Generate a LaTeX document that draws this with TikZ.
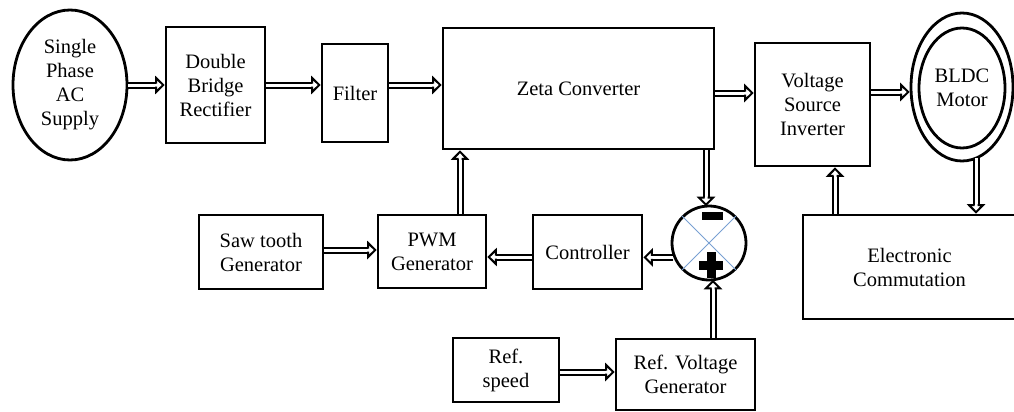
\documentclass[tikz,border=0pt]{standalone}
\usepackage{fontspec}
\setmainfont{Liberation Serif}
\usetikzlibrary{arrows.meta,shapes.geometric,calc,decorations.markings}
\definecolor{crossblue}{RGB}{120,160,210}
\begin{document}
\begin{tikzpicture}[x=1pt,y=-1pt,
  box/.style={draw,line width=2.8pt,inner sep=0pt,align=center,
    font=\fontsize{20.5}{24}\selectfont},
  arrtip/.pic={
    \fill[white] (-8.5pt,7pt) -- (-1.4pt,0pt) -- (-8.5pt,-7pt) -- cycle;
    \draw[black,line width=2pt,line join=miter]
      (-8.5pt,1.5pt) -- (-8.5pt,7pt) -- (-1.4pt,0pt) -- (-8.5pt,-7pt) -- (-8.5pt,-1.5pt);
  },
  arr/.style={draw=none,
    preaction={draw=black,double=white,line width=2pt,double distance=3pt,shorten >=7.5pt},
    postaction={decorate,decoration={markings,mark=at position 1 with {\pic[transform shape]{arrtip};}}}},
  every node/.style={font=\fontsize{20.5}{24}\selectfont}]
\useasboundingbox (0,0) rectangle (1014,412);
% nodes
\node[box,ellipse,minimum width=114,minimum height=150] (supply) at (70,85) {Single\\Phase\\AC\\Supply};
\node[box,minimum width=99,minimum height=116] (dbr) at (215.5,85) {Double\\Bridge\\Rectifier};
\node[box,minimum width=66,minimum height=98] (filter) at (355,93) {Filter};
\node[box,minimum width=271,minimum height=121] (zeta) at (578.5,88.5) {Zeta Converter};
\node[box,minimum width=115,minimum height=123] (vsi) at (812.5,104.5) {Voltage\\Source\\Inverter};
\node[box,ellipse,minimum width=102,minimum height=148] (bldc) at (962,87) {};
\node[box,ellipse,minimum width=86,minimum height=120] (bldcin) at (962,88) {BLDC\\Motor};
\node[box,minimum width=213,minimum height=104] (ec) at (909.5,267) {Electronic\\Commutation};
\node[box,minimum width=124,minimum height=74] (saw) at (261,252) {Saw tooth\\Generator};
\node[box,minimum width=108,minimum height=73] (pwm) at (432,251.5) {PWM\\Generator};
\node[box,minimum width=109,minimum height=74] (ctrl) at (587.5,252) {Controller};
\node[box,minimum width=106,minimum height=64] (refs) at (506,370) {Ref.\\speed};
\node[box,minimum width=139,minimum height=71] (refv) at (685.5,374.5) {Ref. Voltage\\Generator};
\node[draw,circle,line width=2.8pt,minimum size=74,inner sep=0pt] (sum) at (709,243) {};
% cross inside summing junction
\draw[crossblue,line width=0.9pt] (sum.45) -- (sum.225) (sum.135) -- (sum.315);
% signs
\fill (702,212) rectangle (723,219.5);
\fill (707,252) rectangle (715.5,278);
\fill (699,260.5) rectangle (722.5,269.5);
% connectors
\draw[arr] (supply.east) -- (dbr.west);
\draw[arr] (dbr.east) -- (dbr.east -| filter.west);
\coordinate (f1) at (filter.east |- 0,85);
\draw[arr] (f1) -- (f1 -| zeta.west);
\coordinate (z1) at (zeta.east |- 0,93);
\draw[arr] (z1) -- (z1 -| vsi.west);
\coordinate (v1) at (vsi.east |- 0,92);
\draw[arr] (v1) -- (v1 -| bldc.west);
\coordinate (b1) at (976,158);
\draw[arr] (b1) -- (b1 |- ec.north);
\coordinate (e1) at (ec.north -| 835,0);
\draw[arr] (e1) -- (e1 |- vsi.south);
\coordinate (z2) at (zeta.south -| 706,0);
\draw[arr] (z2) -- (706,206.2);
\draw[arr] (sum.202) -- (sum.202 -| ctrl.east);
\coordinate (c1) at (ctrl.west |- 0,257);
\draw[arr] (c1) -- (c1 -| pwm.east);
\coordinate (p1) at (pwm.north -| 460,0);
\draw[arr] (p1) -- (p1 |- zeta.south);
\coordinate (s1) at (saw.east |- 0,250);
\draw[arr] (s1) -- (s1 -| pwm.west);
\coordinate (r1) at (refs.east |- 0,372);
\draw[arr] (r1) -- (r1 -| refv.west);
\coordinate (r2) at (refv.north -| 713,0);
\draw[arr] (r2) -- (713,279.8);
\end{tikzpicture}
\end{document}
